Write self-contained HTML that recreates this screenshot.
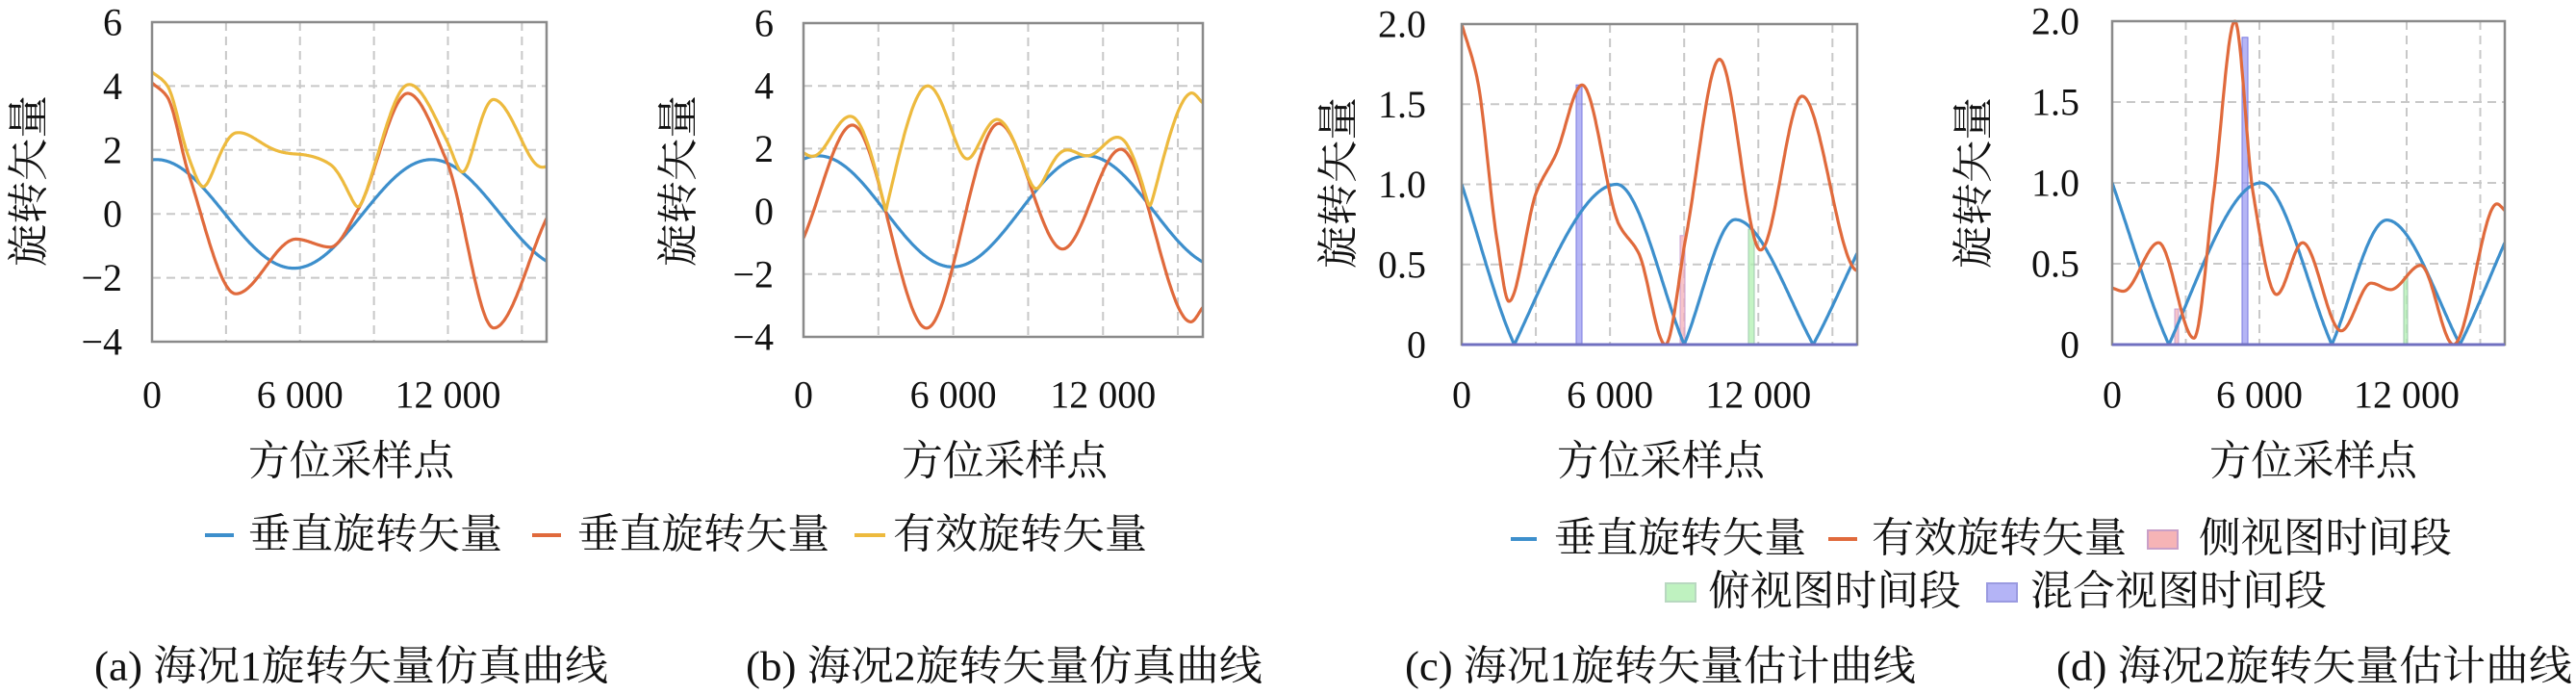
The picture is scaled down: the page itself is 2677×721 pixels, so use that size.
<!DOCTYPE html>
<html><head><meta charset="utf-8"><style>
html,body{margin:0;padding:0;background:#fff;}
svg{display:block;}
text{font-family:"Liberation Serif","Noto Serif CJK SC","Noto Sans CJK SC",serif;fill:#111;}
</style></head><body>
<svg id="s" width="2677" height="721" viewBox="0 0 2677 721" xmlns="http://www.w3.org/2000/svg">
<g id="g"></g>
<g font-size="43" text-anchor="middle" dominant-baseline="central">
<text x="365" y="480" textLength="214" lengthAdjust="spacingAndGlyphs">方位采样点</text>
<text x="1044" y="480" textLength="214" lengthAdjust="spacingAndGlyphs">方位采样点</text>
<text x="1726" y="480" textLength="216" lengthAdjust="spacingAndGlyphs">方位采样点</text>
<text x="2404" y="480" textLength="216" lengthAdjust="spacingAndGlyphs">方位采样点</text>
<text transform="translate(31,188) rotate(-90)" textLength="178" lengthAdjust="spacingAndGlyphs">旋转矢量</text>
<text transform="translate(706,188) rotate(-90)" textLength="178" lengthAdjust="spacingAndGlyphs">旋转矢量</text>
<text transform="translate(1392,190) rotate(-90)" textLength="178" lengthAdjust="spacingAndGlyphs">旋转矢量</text>
<text transform="translate(2052,190) rotate(-90)" textLength="178" lengthAdjust="spacingAndGlyphs">旋转矢量</text>
</g>
<g font-size="43" dominant-baseline="central">
<line x1="213" y1="556" x2="243" y2="556" stroke="#3d8fcc" stroke-width="4"/>
<text x="258" y="556" textLength="264" lengthAdjust="spacingAndGlyphs">垂直旋转矢量</text>
<line x1="553" y1="556" x2="583" y2="556" stroke="#e06a3c" stroke-width="4"/>
<text x="600" y="556" textLength="262" lengthAdjust="spacingAndGlyphs">垂直旋转矢量</text>
<line x1="888" y1="556" x2="920" y2="556" stroke="#edba3e" stroke-width="4"/>
<text x="928" y="556" textLength="264" lengthAdjust="spacingAndGlyphs">有效旋转矢量</text>
<line x1="1570" y1="560" x2="1597" y2="560" stroke="#3d8fcc" stroke-width="4"/>
<text x="1615" y="560" textLength="262" lengthAdjust="spacingAndGlyphs">垂直旋转矢量</text>
<line x1="1900" y1="560" x2="1930" y2="560" stroke="#e06a3c" stroke-width="4"/>
<text x="1945" y="560" textLength="265" lengthAdjust="spacingAndGlyphs">有效旋转矢量</text>
<rect x="2232" y="551" width="31" height="19" fill="#f6b4b6" stroke="#c9a0c8" stroke-width="2"/>
<text x="2285" y="560" textLength="263" lengthAdjust="spacingAndGlyphs">侧视图时间段</text>
<rect x="1731" y="606" width="31" height="19" fill="#bff2c0" stroke="#b8d8c0" stroke-width="2"/>
<text x="1775" y="615" textLength="263" lengthAdjust="spacingAndGlyphs">俯视图时间段</text>
<rect x="2065" y="606" width="31" height="19" fill="#b4b4f6" stroke="#9a9ae0" stroke-width="2"/>
<text x="2110" y="615" textLength="308" lengthAdjust="spacingAndGlyphs">混合视图时间段</text>
</g>
<g font-size="43" dominant-baseline="central">
<text x="98" y="693" textLength="534" lengthAdjust="spacingAndGlyphs">(a) 海况1旋转矢量仿真曲线</text>
<text x="775" y="693" textLength="537" lengthAdjust="spacingAndGlyphs">(b) 海况2旋转矢量仿真曲线</text>
<text x="1460" y="693" textLength="531" lengthAdjust="spacingAndGlyphs">(c) 海况1旋转矢量估计曲线</text>
<text x="2137" y="693" textLength="536" lengthAdjust="spacingAndGlyphs">(d) 海况2旋转矢量估计曲线</text>
</g>
</svg>
<script>
(function(){
var NS="http://www.w3.org/2000/svg",G=document.getElementById("g");
function el(t,a,p){var e=document.createElementNS(NS,t);for(var k in a)e.setAttribute(k,a[k]);(p||G).appendChild(e);return e;}
function mono(pts){
 var n=pts.length,x=pts.map(p=>p[0]),y=pts.map(p=>p[1]),dx=[],dk=[],m=[];
 for(var i=0;i<n-1;i++){dx[i]=x[i+1]-x[i];dk[i]=(y[i+1]-y[i])/dx[i];}
 m[0]=dk[0];m[n-1]=dk[n-2];
 for(i=1;i<n-1;i++){ if(dk[i-1]*dk[i]<=0)m[i]=0; else{var a=dx[i-1],b=dx[i];m[i]=3*(a+b)/((2*b+a)/dk[i-1]+(b+2*a)/dk[i]);}}
 return function(v){var i=0;while(i<n-2&&v>x[i+1])i++;var h=dx[i],t=(v-x[i])/h,t2=t*t,t3=t2*t;
  return (2*t3-3*t2+1)*y[i]+(t3-2*t2+t)*h*m[i]+(-2*t3+3*t2)*y[i+1]+(t3-t2)*h*m[i+1];};
}
var BLUE="#3d8fcc",RED="#e06a3c",YEL="#edba3e";
function panel(P){
 var sx=v=>P.L+(v/16000)*(P.R-P.L), sy=v=>P.B-(v-P.ymin)/(P.ymax-P.ymin)*(P.B-P.T);
 P.yt.forEach(function(v,i){var y=sy(v);
  if(v>P.ymin&&v<P.ymax)el("line",{x1:P.L,x2:P.R,y1:y,y2:y,stroke:"#c8c8c8","stroke-width":2,"stroke-dasharray":"9,6"});
  var t=el("text",{x:P.tx,y:y,"font-size":40,"text-anchor":"end","dominant-baseline":"central"});t.textContent=P.yl[i];});
 for(var v=3000;v<16000;v+=3000){var x=sx(v);el("line",{x1:x,x2:x,y1:P.T,y2:P.B,stroke:"#c8c8c8","stroke-width":2,"stroke-dasharray":"9,6"});}
 [[0,"0"],[6000,"6 000"],[12000,"12 000"]].forEach(function(a){var t=el("text",{x:sx(a[0]),y:410,"font-size":40,"text-anchor":"middle","dominant-baseline":"central"});t.textContent=a[1];});
 var id="c"+P.L;var cp=el("clipPath",{id:id});el("rect",{x:P.L,y:P.T-3,width:P.R-P.L,height:P.B-P.T+4},cp);
 var g=el("g",{"clip-path":"url(#"+id+")"});
 (P.bars||[]).forEach(function(b){el("rect",{x:b[0],y:sy(b[2]),width:b[1]-b[0],height:P.B-sy(b[2]),fill:b[3],"fill-opacity":0.75,stroke:b[4],"stroke-width":1},g);});
 P.series.forEach(function(s){var d="";for(var i=0;i<=600;i++){var v=i/600*16000;var yv=s.f(v);d+=(i?"L":"M")+sx(v).toFixed(1)+","+sy(yv).toFixed(1);}
  el("path",{d:d,fill:"none",stroke:s.c,"stroke-width":3.2,"stroke-linejoin":"round"},g);});
 el("rect",{x:P.L,y:P.T,width:P.R-P.L,height:P.B-P.T,fill:"none",stroke:"#8a8a8a","stroke-width":2.5});
 if(P.ybot)el("line",{x1:P.L,x2:P.R,y1:P.B,y2:P.B,stroke:"#7070c0","stroke-width":3});
}
var yA=[-4,-2,0,2,4,6],yAl=["−4","−2","0","2","4","6"];
var ba=v=>1.7*Math.cos(2*Math.PI*(v-11330)/11160);
var ra=mono([[0,4.1],[610,3.67],[1480,1.27],[3400,-2.5],[5840,-0.79],[7230,-1.04],[8370,0.16],[10370,3.77],[11940,1.67],[13860,-3.57],[16000,-0.14]]);
panel({L:158,R:568,T:23,B:355,ymin:-4,ymax:6,yt:yA,yl:yAl,tx:127,series:[{f:ba,c:BLUE},{f:ra,c:RED},{f:v=>Math.hypot(ba(v),ra(v)),c:YEL}]});
var bb=v=>1.77*Math.cos(2*Math.PI*(v-11350)/10760);
var rb=mono([[0,-0.85],[1960,2.75],[4930,-3.72],[7820,2.8],[10380,-1.2],[12710,1.98],[15520,-3.52],[16000,-3.06]]);
panel({L:835,R:1250,T:24,B:350,ymin:-4,ymax:6,yt:yA,yl:yAl,tx:804,series:[{f:bb,c:BLUE},{f:rb,c:RED},{f:v=>Math.hypot(bb(v),rb(v)),c:YEL}]});
var yC=[0,0.5,1,1.5,2],yCl=["0","0.5","1.0","1.5","2.0"];
var bcf=mono([[0,1],[2130,0],[6270,-1],[9000,0],[11070,0.78],[14220,0],[16000,-0.57]]);
var rc=mono([[0,2.0],[640,1.65],[1430,0.65],[1910,0.27],[3020,0.95],[3820,1.19],[4870,1.62],[6360,0.75],[7160,0.57],[8240,0],[9070,0.67],[10430,1.78],[12090,0.59],[13770,1.55],[15900,0.47],[16000,0.46]]);
panel({L:1519,R:1930,T:25,B:358,ymin:0,ymax:2,yt:yC,yl:yCl,tx:1482,ybot:1,
 bars:[[1638,1644,1.62,"#9c9cf2","#7a7ae0"],[1746,1751,0.68,"#f4b0b8","#c8a0d0"],[1817,1823,0.72,"#b0f0b0","#a0c8b0"]],
 series:[{f:v=>Math.abs(bcf(v)),c:BLUE},{f:v=>Math.max(0,rc(v)),c:RED}]});
var bdf=mono([[0,1],[2310,0],[6060,-1],[8950,0],[11190,0.77],[14170,0],[16000,-0.63]]);
var rd=mono([[0,0.35],[450,0.33],[1890,0.63],[3330,0.04],[4140,0.94],[5000,2.0],[5740,0.94],[6700,0.31],[7760,0.63],[9330,0.085],[10550,0.38],[11350,0.34],[12570,0.49],[13910,0],[15680,0.87],[16000,0.83]]);
panel({L:2195,R:2603,T:22,B:358,ymin:0,ymax:2,yt:yC,yl:yCl,tx:2161,ybot:1,
 bars:[[2260,2264,0.22,"#f4b0b8","#c8a0d0"],[2330,2336,1.9,"#9c9cf2","#7a7ae0"],[2498,2502,0.42,"#b0f0b0","#a0c8b0"]],
 series:[{f:v=>Math.abs(bdf(v)),c:BLUE},{f:v=>Math.max(0,rd(v)),c:RED}]});
})();
</script>
</body></html>
